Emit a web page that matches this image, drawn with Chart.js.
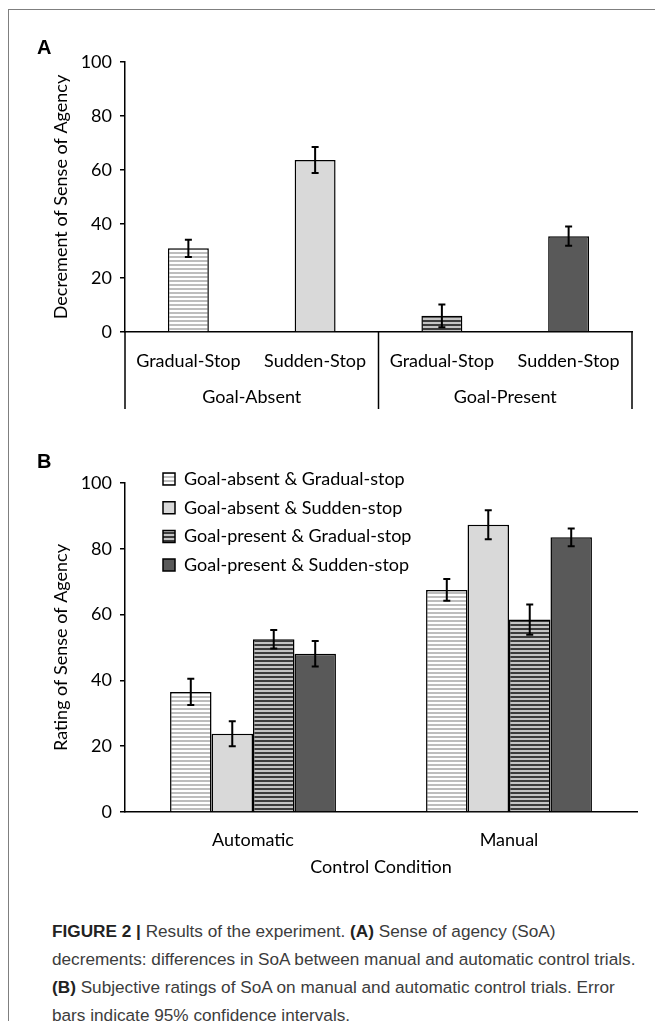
<!DOCTYPE html>
<html>
<head>
<meta charset="utf-8">
<script src="https://cdn.jsdelivr.net/npm/chart.js@4.4.1/dist/chart.umd.min.js"></script>
<style>
  html, body { margin: 0; padding: 0; background: #fff; }
  body { width: 655px; height: 1021px; position: relative; overflow: hidden; }
  .frame { position: absolute; left: 8px; top: 9px; width: 660px; height: 1030px;
           border-top: 1.5px solid #7f7f7f; border-left: 1.5px solid #7f7f7f; }
  canvas { position: absolute; left: 0; }
  #chartA { top: 0; }
  #chartB { top: 420px; }
  .tag { position: absolute; left: 37px; font: bold 20px "Liberation Sans", Arial, sans-serif; line-height: 20px; color: #000; }
  .caption { position: absolute; left: 52px; top: 917px; width: 600px;
             font: 17.2px "Liberation Sans", Arial, sans-serif; line-height: 28px; color: #3c3c3c; white-space: nowrap; }
  .caption b { color: #222; }
</style>
</head>
<body>
<div class="frame"></div>
<canvas id="chartA" width="655" height="420"></canvas>
<canvas id="chartB" width="655" height="480"></canvas>
<div class="tag" style="top:37px">A</div>
<div class="tag" style="top:451px">B</div>
<div class="caption"><b>FIGURE 2</b> <b>|</b> Results of the experiment. <b>(A)</b> Sense of agency (SoA)<br>decrements: differences in SoA between manual and automatic control trials.<br><b>(B)</b> Subjective ratings of SoA on manual and automatic control trials. Error<br>bars indicate 95% confidence intervals.</div>

<script>
// DATA

// Panel A: SoA decrement
const stopTypes = ["Gradual-Stop", "Sudden-Stop", "Gradual-Stop", "Sudden-Stop"];
const goalGroups = ["Goal-Absent", "Goal-Present"];
const decrementValues = [31.0, 63.7, 6.0, 35.5];
const decrementErrors = [3.2, 4.8, 4.2, 3.6];

// Panel B: ratings of SoA
const controlConditions = ["Automatic", "Manual"];
const seriesNames = [
    "Goal-absent & Gradual-stop",
    "Goal-absent & Sudden-stop",
    "Goal-present & Gradual-stop",
    "Goal-present & Sudden-stop"
];
const absentGradual = [36.5, 67.5];
const absentSudden = [23.8, 87.3];
const presentGradual = [52.5, 58.5];
const presentSudden = [48.1, 83.5];
const absentGradualErr = [4.0, 3.3];
const absentSuddenErr = [3.8, 4.4];
const presentGradualErr = [2.8, 4.6];
const presentSuddenErr = [3.9, 2.7];

const yTickStep = 20;

// FILLS

function stripes(bg, fg, period, thick) {
    const c = document.createElement("canvas");
    c.width = period;
    c.height = period;
    const g = c.getContext("2d");
    g.fillStyle = bg;
    g.fillRect(0, 0, period, period);
    g.fillStyle = fg;
    g.fillRect(0, 0, period, thick);
    return g.createPattern(c, "repeat");
}

const fillAbsentGradual = stripes("#ffffff", "#bdbdbd", 4, 2);
const fillAbsentSudden = "#d9d9d9";
const fillPresentGradual = stripes("#c4c4c4", "#3c3c3c", 4, 2);
const fillPresentSudden = "#595959";

const FONT = "Lato, 'Open Sans', sans-serif";
Chart.defaults.font.family = FONT;
Chart.defaults.font.size = 18;
Chart.defaults.color = "#000";

// PLUGINS

const errorBars = {
    id: "errorBars",
    afterDatasetsDraw(chart) {
        const ctx = chart.ctx;
        const yScale = chart.scales.y;
        ctx.save();
        ctx.strokeStyle = "#000";
        ctx.lineWidth = 2;
        chart.data.datasets.forEach((ds, di) => {
            const meta = chart.getDatasetMeta(di);
            meta.data.forEach((bar, i) => {
                const v = ds.data[i];
                const e = ds.errors[i];
                const yTop = yScale.getPixelForValue(v + e);
                const yBot = yScale.getPixelForValue(v - e);
                const cap = 3.5;
                ctx.beginPath();
                ctx.moveTo(bar.x, yTop);
                ctx.lineTo(bar.x, yBot);
                ctx.moveTo(bar.x - cap, yTop);
                ctx.lineTo(bar.x + cap, yTop);
                ctx.moveTo(bar.x - cap, yBot);
                ctx.lineTo(bar.x + cap, yBot);
                ctx.stroke();
            });
        });
        ctx.restore();
    }
};

// group labels and separators under panel A
const groupAxis = {
    id: "groupAxis",
    afterDraw(chart) {
        const ctx = chart.ctx;
        const area = chart.chartArea;
        const x = chart.scales.x;
        const perGroup = stopTypes.length / goalGroups.length;
        const edges = [x.left];
        for (let gi = 1; gi <= goalGroups.length; gi++) {
            const idx = gi * perGroup;
            if (idx < stopTypes.length) {
                edges.push((x.getPixelForValue(idx - 1) + x.getPixelForValue(idx)) / 2);
            } else {
                edges.push(x.right);
            }
        }
        ctx.save();
        ctx.strokeStyle = "#000";
        ctx.lineWidth = 1.5;
        edges.forEach(px => {
            ctx.beginPath();
            ctx.moveTo(px, area.bottom);
            ctx.lineTo(px, area.bottom + 77);
            ctx.stroke();
        });
        ctx.fillStyle = "#000";
        ctx.font = "18px " + FONT;
        ctx.textAlign = "center";
        ctx.textBaseline = "middle";
        goalGroups.forEach((g, i) => {
            ctx.fillText(g, (edges[i] + edges[i + 1]) / 2, area.bottom + 65);
        });
        ctx.restore();
    }
};

// the in-area legend sits just above the top tick, a bit in from the axis
const legendShift = {
    id: "legendShift",
    afterLayout(chart) {
        const lg = chart.legend;
        if (!lg) return;
        const pad = lg.options.labels.padding;
        const h = lg.bottom - lg.top;
        lg.top = chart.chartArea.top - 4 - 9 - pad;
        lg.bottom = lg.top + h;
        const w = lg.right - lg.left;
        lg.left = chart.chartArea.left + 38 - pad;
        lg.right = lg.left + w;
    }
};

function yAxis(title, leftWidth) {
    return {
        min: 0,
        max: 100,
        ticks: { stepSize: yTickStep, padding: 8, color: "#000" },
        grid: { drawOnChartArea: false, color: "#000", lineWidth: 1.5, tickLength: 5 },
        border: { color: "#000", width: 1.5 },
        title: { display: true, text: title, color: "#000", font: { size: 18 }, padding: { top: 4, bottom: 4 } },
        afterFit(scale) { scale.width = leftWidth; }
    };
}

// PANEL A

new Chart(document.getElementById("chartA"), {
    type: "bar",
    data: {
        labels: stopTypes,
        datasets: [{
            data: decrementValues,
            errors: decrementErrors,
            backgroundColor: [fillAbsentGradual, fillAbsentSudden, fillPresentGradual, fillPresentSudden],
            borderColor: "#000",
            borderWidth: 1.5,
            categoryPercentage: 1,
            barPercentage: 0.323
        }]
    },
    options: {
        responsive: false,
        animation: false,
        layout: { padding: { left: 46, right: 23, top: 62, bottom: 4 } },
        plugins: { legend: { display: false }, tooltip: { enabled: false } },
        scales: {
            x: {
                ticks: { padding: 18, color: "#000" },
                grid: { drawOnChartArea: false, drawTicks: false },
                border: { color: "#000", width: 1.5 },
                afterFit(scale) { scale.height = 84; }
            },
            y: yAxis("Decrement of Sense of Agency", 79)
        }
    },
    plugins: [errorBars, groupAxis]
});

// PANEL B

const bSeries = [
    [absentGradual, absentGradualErr, fillAbsentGradual],
    [absentSudden, absentSuddenErr, fillAbsentSudden],
    [presentGradual, presentGradualErr, fillPresentGradual],
    [presentSudden, presentSuddenErr, fillPresentSudden]
];

new Chart(document.getElementById("chartB"), {
    type: "bar",
    data: {
        labels: controlConditions,
        datasets: bSeries.map((s, i) => ({
            label: seriesNames[i],
            data: s[0],
            errors: s[1],
            backgroundColor: s[2],
            borderColor: "#000",
            borderWidth: 1.5,
            categoryPercentage: 0.648,
            barPercentage: 1
        }))
    },
    options: {
        responsive: false,
        animation: false,
        layout: { padding: { left: 46, right: 18, top: 63, bottom: 19 } },
        plugins: {
            tooltip: { enabled: false },
            legend: {
                position: "chartArea",
                align: "start",
                labels: { boxWidth: 12, boxHeight: 12, padding: 10.7, color: "#000", font: { size: 18 } }
            }
        },
        scales: {
            x: {
                ticks: { padding: 17, color: "#000" },
                grid: { drawOnChartArea: false, drawTicks: false },
                border: { color: "#000", width: 1.5 },
                title: { display: true, text: "Control Condition", color: "#000", font: { size: 18 }, padding: { top: 4, bottom: 3 } },
                afterFit(scale) { scale.height = 69; }
            },
            y: yAxis("Rating of Sense of Agency", 79)
        }
    },
    plugins: [errorBars, legendShift]
});
</script>
</body>
</html>
